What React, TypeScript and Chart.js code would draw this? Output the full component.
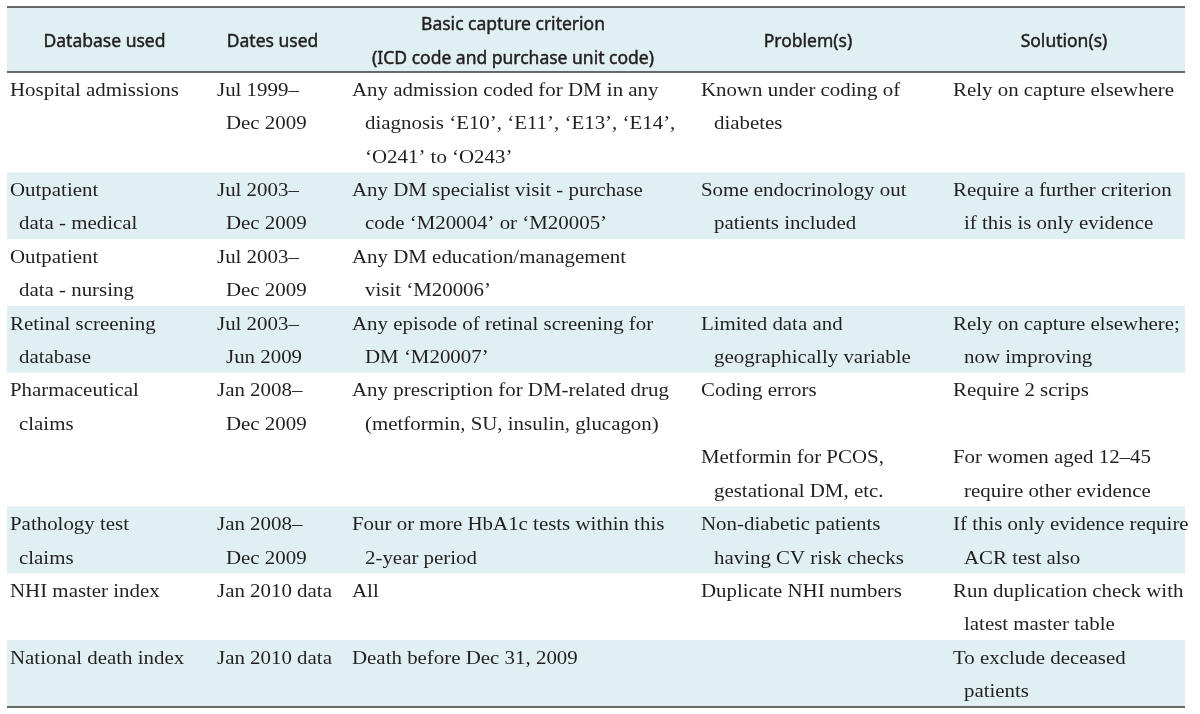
import React, { useEffect, useRef } from 'react';
import { Chart, registerables } from 'chart.js';

Chart.register(...registerables);

// ---- table content ----
const headers: string[][] = [
  ['Database used'],
  ['Dates used'],
  ['Basic capture criterion', '(ICD code and purchase unit code)'],
  ['Problem(s)'],
  ['Solution(s)'],
];

const databases: string[][] = [
  ['Hospital admissions'],
  ['Outpatient', 'data - medical'],
  ['Outpatient', 'data - nursing'],
  ['Retinal screening', 'database'],
  ['Pharmaceutical', 'claims'],
  ['Pathology test', 'claims'],
  ['NHI master index'],
  ['National death index'],
];

const datesUsed: string[][] = [
  ['Jul 1999–', 'Dec 2009'],
  ['Jul 2003–', 'Dec 2009'],
  ['Jul 2003–', 'Dec 2009'],
  ['Jul 2003–', 'Jun 2009'],
  ['Jan 2008–', 'Dec 2009'],
  ['Jan 2008–', 'Dec 2009'],
  ['Jan 2010 data'],
  ['Jan 2010 data'],
];

const criteria: string[][] = [
  ['Any admission coded for DM in any', 'diagnosis ‘E10’, ‘E11’, ‘E13’, ‘E14’,', '‘O241’ to ‘O243’'],
  ['Any DM specialist visit - purchase', 'code ‘M20004’ or ‘M20005’'],
  ['Any DM education/management', 'visit ‘M20006’'],
  ['Any episode of retinal screening for', 'DM ‘M20007’'],
  ['Any prescription for DM-related drug', '(metformin, SU, insulin, glucagon)'],
  ['Four or more HbA1c tests within this', '2-year period'],
  ['All'],
  ['Death before Dec 31, 2009'],
];

const problems: string[][] = [
  ['Known under coding of', 'diabetes'],
  ['Some endocrinology out', 'patients included'],
  [],
  ['Limited data and', 'geographically variable'],
  ['Coding errors', '', 'Metformin for PCOS,', 'gestational DM, etc.'],
  ['Non-diabetic patients', 'having CV risk checks'],
  ['Duplicate NHI numbers'],
  [],
];

const solutions: string[][] = [
  ['Rely on capture elsewhere'],
  ['Require a further criterion', 'if this is only evidence'],
  [],
  ['Rely on capture elsewhere;', 'now improving'],
  ['Require 2 scrips', '', 'For women aged 12–45', 'require other evidence'],
  ['If this only evidence require', 'ACR test also'],
  ['Run duplication check with', 'latest master table'],
  ['To exclude deceased', 'patients'],
];

const rowLines: number[] = [3, 2, 2, 2, 4, 2, 2, 2];
const rowShaded: boolean[] = [false, true, false, true, false, true, false, true];

const columnsData: string[][][] = [databases, datesUsed, criteria, problems, solutions];

// ---- layout (in scale units) ----
const X_MAX = 1178;
const Y_MAX = 700;
const HEADER_H = 65;
const LINE_H = (Y_MAX - HEADER_H) / rowLines.reduce((a, b) => a + b, 0);
const colLeft = [3, 210, 345, 694, 946];
const colIndent = [9, 9, 13, 13, 11];
const headerCenter = [97.5, 265.5, 506, 801, 1057];

const SHADE = '#dfeff2';
const TEXT = '#231f20';
const RULE = '#3a3a3a';

const tablePlugin = {
  id: 'tablePlugin',
  beforeDatasetsDraw(chart: any) {
    const ctx: CanvasRenderingContext2D = chart.ctx;
    const xs = chart.scales.x;
    const ys = chart.scales.y;
    const px = (v: number) => xs.getPixelForValue(v);
    const py = (v: number) => ys.getPixelForValue(v);
    const x0 = px(0);
    const x1 = px(X_MAX);

    ctx.save();
    // header shading
    ctx.fillStyle = SHADE;
    ctx.fillRect(x0, py(0), x1 - x0, py(HEADER_H) - py(0));

    // row shading
    let top = HEADER_H;
    const rowTops: number[] = [];
    rowLines.forEach((n, i) => {
      rowTops.push(top);
      if (rowShaded[i]) {
        ctx.fillStyle = SHADE;
        ctx.fillRect(x0, py(top), x1 - x0, py(top + n * LINE_H) - py(top));
      }
      top += n * LINE_H;
    });

    // rules
    ctx.strokeStyle = RULE;
    const rule = (v: number, w: number) => {
      ctx.lineWidth = w;
      ctx.beginPath();
      ctx.moveTo(x0, py(v));
      ctx.lineTo(x1, py(v));
      ctx.stroke();
    };
    rule(0, 1.6);
    rule(HEADER_H, 1.4);
    rule(Y_MAX, 1.6);

    // header text (slightly emboldened)
    ctx.fillStyle = TEXT;
    ctx.strokeStyle = TEXT;
    ctx.lineWidth = 0.45;
    ctx.lineJoin = 'round';
    ctx.font = '17.5px "Noto Sans"';
    ctx.textAlign = 'center';
    ctx.textBaseline = 'middle';
    headers.forEach((lines, c) => {
      const mid = HEADER_H / 2;
      const n = lines.length;
      lines.forEach((s, k) => {
        const yv = mid + (k - (n - 1) / 2) * 34;
        ctx.fillText(s, px(headerCenter[c]), py(yv) + 2.5);
        ctx.strokeText(s, px(headerCenter[c]), py(yv) + 2.5);
      });
    });

    // body text
    ctx.font = '19px "Liberation Serif"';
    ctx.textAlign = 'left';
    ctx.textBaseline = 'middle';
    columnsData.forEach((col, c) => {
      col.forEach((lines, r) => {
        let paraStart = true;
        lines.forEach((s, k) => {
          if (s === '') {
            paraStart = true;
            return;
          }
          const xv = colLeft[c] + (paraStart ? 0 : colIndent[c]);
          const yv = rowTops[r] + (k + 0.5) * LINE_H;
          ctx.save();
          ctx.translate(px(xv), py(yv) + 2);
          ctx.scale(1.1, 1);
          ctx.fillText(s, 0, 0);
          ctx.restore();
          paraStart = false;
        });
      });
    });
    ctx.restore();
  },
};

export default function App() {
  const ref = useRef<HTMLCanvasElement | null>(null);
  useEffect(() => {
    if (!ref.current) return;
    const chart = new Chart(ref.current, {
      type: 'scatter',
      data: { datasets: [{ data: [], pointRadius: 0 }] },
      options: {
        responsive: false,
        animation: false,
        devicePixelRatio: 1,
        layout: { padding: { left: 7, right: 15, top: 7, bottom: 7 } },
        plugins: { legend: { display: false }, tooltip: { enabled: false } },
        scales: {
          x: { type: 'linear', min: 0, max: X_MAX, display: false },
          y: { type: 'linear', min: 0, max: Y_MAX, reverse: true, display: false },
        },
      },
      plugins: [tablePlugin],
    });
    return () => chart.destroy();
  }, []);
  return (
    <div style={{ position: 'absolute', left: 0, top: 0, width: 1200, height: 714, background: '#fff' }}>
      <canvas ref={ref} width={1200} height={714} />
    </div>
  );
}
